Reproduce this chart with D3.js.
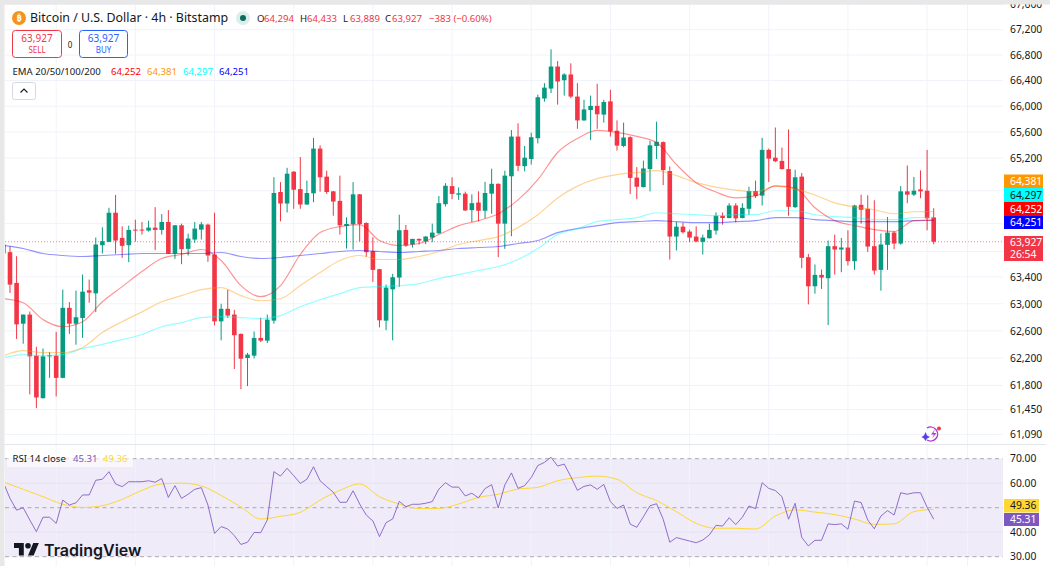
<!DOCTYPE html>
<html>
<head>
<meta charset="utf-8">
<title>BTCUSD 4h</title>
<script src="https://cdn.jsdelivr.net/npm/d3@7/dist/d3.min.js"></script>
<style>
html, body { margin: 0; padding: 0; background: #fff; overflow: hidden; }
text { font-family: "Noto Sans", sans-serif; }
</style>
</head>
<body>
<div id="chart"></div>
<script>
// 4h candles, left to right
var opens = [63885,63770,63310,62705,62840,62235,61615,62225,62235,61910,
  62940,62705,62790,63200,63155,63875,63925,64365,63985,63875,
  64110,64110,64095,64140,64105,64225,63750,64175,63820,63960,
  64110,64185,63735,62740,62925,62840,62555,62200,62235,62495,
  62455,62750,64680,64505,64990,64725,64490,64660,65345,64915,
  64690,64545,64165,64190,64645,64210,63785,63515,62750,63215,
  63390,64105,63885,63970,63930,63990,64055,64495,64770,64640,
  64655,64405,64520,64395,64655,64805,64200,64920,65530,65075,
  65185,65505,66120,66275,66620,66405,66495,66150,65780,65940,
  66005,65870,66075,65620,65385,65520,64900,64755,65030,65385,
  65445,65000,64005,64155,64080,64005,63925,63980,64095,64320,
  64285,64475,64285,64425,64695,64625,65325,65205,65155,65030,
  64450,64915,63695,63260,63430,63380,63860,63810,63840,63635,
  64485,64425,63860,63505,63880,64065,63900,64690,64640,64720,
  64700,64294];
var highs = [63885,63860,63710,62840,62885,62365,62340,62290,62585,63210,
  63025,63195,63435,63360,63990,64145,64440,64635,64160,64170,
  64260,64225,64245,64450,64345,64405,64180,64200,64050,64225,
  64225,64200,64365,63000,63210,62910,62560,62275,62590,62795,
  62840,64905,64830,65050,65000,65215,64855,65510,65395,65005,
  64695,64930,64295,64830,64650,64220,63995,63520,63285,63445,
  64335,64180,63970,63975,64010,64200,64620,64815,64905,64750,
  64685,64645,64690,64835,65035,64810,65005,65630,65735,65385,
  65590,66180,66360,66890,66705,66515,66670,66360,66100,66165,
  66350,66100,66255,65780,65745,65535,65060,65160,65465,65760,
  65455,65070,64225,64215,64110,64160,64035,64200,64370,64370,
  64510,64510,64510,64760,64855,65510,65345,65670,65360,65640,
  65020,64970,63745,63585,63510,63945,64035,63985,64100,64485,
  64640,64630,64555,64050,64300,64085,64770,65085,64910,65010,
  65325,64433];
var lows = [63750,63160,62480,62410,61670,61470,61610,61910,61640,61905,
  62555,62395,62495,63015,62875,63750,63920,63745,63685,63620,
  63930,64035,64080,63800,64035,63745,63670,63590,63720,63910,
  63960,63625,62680,62460,62790,62040,61745,61790,62195,62435,
  62420,62705,64235,64370,64425,64425,64485,64525,64685,64650,
  64320,64035,63825,63810,63930,63700,63325,62650,62610,62460,
  63250,63850,63840,63885,63890,63920,64045,64460,64570,64560,
  64390,64225,64235,64280,64350,63695,63820,64010,65000,64995,
  65100,65425,66070,66205,66025,66165,66125,65650,65775,65475,
  65650,65745,65530,65315,65365,64650,64570,64750,64690,65185,
  64785,63660,63795,64050,63920,63920,63735,63975,64035,64185,
  64280,64220,64280,64335,64590,64475,64830,65135,65025,64320,
  64435,63530,62990,63150,63220,62685,63435,63470,63570,63505,
  64200,63775,63435,63195,63505,63815,63880,64510,64620,64585,
  64100,63889];
var closes = [63750,63285,62695,62840,62225,61625,62225,62240,61910,62940,
  62705,62800,63180,63165,63885,63935,64365,63945,63865,64105,
  64095,64095,64140,64105,64225,63750,64175,63815,63975,64125,
  64190,63720,62740,62925,62825,62535,62190,62250,62495,62455,
  62765,64665,64505,64960,64715,64490,64665,65345,64905,64680,
  64535,64175,64195,64645,64195,63770,63505,62755,63240,63395,
  64100,63870,63970,63945,64005,64065,64510,64775,64650,64660,
  64400,64510,64395,64665,64805,64200,64930,65530,65080,65205,
  65520,66140,66290,66620,66385,66495,66150,65780,65950,66005,
  65875,66065,65610,65390,65515,64895,64760,65040,65395,65450,
  65015,64005,64155,64070,63990,63930,63990,64105,64320,64285,
  64475,64280,64440,64695,64620,65325,65190,65150,65030,64455,
  64905,63685,63260,63430,63390,63860,63810,63840,63635,64475,
  64410,63855,63495,63885,64065,63900,64690,64640,64700,64690,
  64280,63927];

// EMAs and the RSI average, read at every third candle
var sampleStep = 3;
var ema20 = [63075,63015,62765,62660,62735,63030,63255,63480,63675,63735,63810,63645,63270,63105,63270,63735,
  64065,64155,64185,63945,63870,63900,64035,64170,64245,64350,64560,64868,65285,65501,65625,65594,
  65532,65439,65100,64822,64680,64590,64620,64775,64740,64440,64245,64170,64110,64080,64245,64252];
var ema50 = [62235,62310,62280,62280,62355,62575,62735,62880,63030,63120,63210,63240,63120,63045,63075,63270,
  63465,63645,63720,63660,63660,63705,63780,63885,63945,64005,64140,64335,64590,64770,64883,64945,
  64976,65007,64930,64822,64755,64710,64680,64770,64725,64635,64515,64455,64410,64350,64380,64381];
var ema100 = [62206,62250,62235,62250,62340,62400,62470,62545,62660,62720,62795,62810,62795,62780,62825,62955,
  63060,63150,63240,63255,63270,63300,63375,63435,63495,63555,63660,63825,64035,64125,64230,64260,
  64290,64365,64350,64335,64320,64335,64335,64395,64395,64335,64305,64290,64260,64260,64290,64297];
var ema200 = [63870,63825,63750,63720,63705,63720,63735,63750,63750,63750,63750,63765,63705,63675,63690,63720,
  63750,63780,63795,63780,63765,63780,63795,63825,63840,63855,63900,63945,64065,64125,64170,64215,
  64230,64245,64230,64215,64215,64230,64245,64290,64290,64260,64245,64230,64230,64230,64245,64251];

var rsi = [60.2,53.8,49.0,50.0,45.0,40.2,46.1,46.1,43.6,53.1,51.1,52.0,55.2,55.2,61.2,61.6,64.7,59.7,58.6,60.6,
  60.6,60.6,61.0,60.4,61.9,54.2,59.0,53.8,55.5,57.5,58.2,51.1,39.5,42.3,41.3,38.6,35.0,35.9,39.9,39.8,
  45.0,64.7,62.9,66.1,63.1,59.9,61.6,66.7,61.0,58.6,56.3,52.2,52.2,56.9,51.5,47.0,44.6,38.2,43.9,45.4,
  52.6,50.4,51.4,51.4,51.8,52.5,57.6,60.2,58.4,58.4,54.8,55.9,54.0,57.8,59.4,49.9,59.3,64.2,57.9,59.0,
  62.3,67.2,68.5,70.6,67.0,67.8,62.7,57.1,58.7,59.3,57.5,59.5,52.5,49.7,51.1,43.3,42.0,46.3,50.8,51.6,
  45.3,35.9,37.8,37.1,36.4,35.7,36.8,38.9,42.8,42.5,45.9,43.1,46.1,50.7,49.6,60.2,57.9,57.0,54.5,45.3,
  51.8,37.9,34.4,36.7,36.7,43.4,43.1,43.4,41.2,52.7,52.1,45.0,41.4,46.6,48.8,47.0,56.1,55.5,56.1,56.1,
  50.2,45.31];
var rsiMa = [60.5,57.5,54.5,51.4,50.1,50.8,53.4,57.1,59.7,60.0,58.9,55.0,50.3,45.4,46.5,48.1,53.1,57.1,
  59.7,54.5,51.5,49.7,49.7,51.5,54.2,55.5,57.6,58.3,61.0,62.3,62.9,61.6,56.1,52.9,48.4,43.6,
  41.6,41.6,41.3,46.6,49.1,48.2,47.2,45.4,43.2,43.4,48.4,49.36];

var priceTicks = [67600,67200,66800,66400,66000,65600,65200,63400,63000,62600,62200,61800,61450,61090];
var hiddenPriceTicks = [64700,64200,63780]; // labels sit behind the tags
var rsiTicks = [70,60,40,30];
var rsiBands = [70,50,30];
var gridCandles = [8,20,32,44,56,68,80,92,104,116,128,140];
var gridExtraX = [967.5];

var lastPrice = 63927;
var lastRsi = 45.31, lastRsiMa = 49.36;
var emaLabels = ["EMA 20/50/100/200"];
var emaLast = [64252,64381,64297,64251];

var up = "#089981", down = "#f23645";
var emaColors = ["#ff0000","#ff9800","#00ffff","#0000ff"];
var rsiColor = "#7e57c2", rsiMaColor = "#fdd835";
var textColor = "#131722";

var width = 1050, height = 566;
var plotLeft = 5, plotRight = 1003;

var svg = d3.select("#chart").append("svg")
  .attr("width", width).attr("height", height)
  .style("display", "block");

var fmt = d3.format(",");
var x = d3.scaleLinear().domain([0, opens.length - 1]).range([3.4, 933.7]);
var y = d3.scaleLog().domain([61090, 67600]).range([434.5, 4.5]);
var yRsi = d3.scaleLinear().domain([30, 70]).range([556.7, 458.7]);

svg.append("defs").append("clipPath").attr("id", "plot")
  .append("rect").attr("x", plotLeft).attr("y", 5)
  .attr("width", plotRight - plotLeft).attr("height", height - 5);

// rsi background first so the grid shows on it
svg.append("rect")
  .attr("x", plotLeft).attr("width", plotRight - plotLeft)
  .attr("y", yRsi(70)).attr("height", yRsi(30) - yRsi(70))
  .attr("fill", rsiColor).attr("fill-opacity", 0.12);

// grid
var gridX = gridCandles.map(function(d) { return x(d); }).concat(gridExtraX);
svg.append("g").selectAll("line").data(gridX).enter().append("line")
  .attr("x1", function(d) { return d; }).attr("x2", function(d) { return d; })
  .attr("y1", 5).attr("y2", height)
  .attr("stroke", "#f0f3fa").attr("stroke-width", 1);

svg.append("g").selectAll("line").data(priceTicks.concat(hiddenPriceTicks)).enter().append("line")
  .attr("x1", plotLeft).attr("x2", plotRight)
  .attr("y1", function(d) { return y(d); }).attr("y2", function(d) { return y(d); })
  .attr("stroke", "#f0f3fa").attr("stroke-width", 1);

svg.append("g").selectAll("line").data([60, 40]).enter().append("line")
  .attr("x1", plotLeft).attr("x2", plotRight)
  .attr("y1", function(d) { return yRsi(d); }).attr("y2", function(d) { return yRsi(d); })
  .attr("stroke", "#e6e3f2").attr("stroke-width", 1);

// pane separator
svg.append("line").attr("x1", plotLeft).attr("x2", 1046).attr("y1", 444.5).attr("y2", 444.5)
  .attr("stroke", "#e3e5eb").attr("stroke-width", 1);

svg.append("g").selectAll("line").data(rsiBands).enter().append("line")
  .attr("x1", plotLeft).attr("x2", plotRight)
  .attr("y1", function(d) { return yRsi(d); }).attr("y2", function(d) { return yRsi(d); })
  .attr("stroke", "#a9a9b2").attr("stroke-width", 1).attr("stroke-dasharray", "4 3.5");

// candles
var candles = d3.range(opens.length);
var candleG = svg.append("g").attr("clip-path", "url(#plot)");
var candleColor = function(i) { return closes[i] >= opens[i] ? up : down; };

candleG.selectAll("line.wick").data(candles).enter().append("line").attr("class", "wick")
  .attr("x1", function(i) { return x(i); }).attr("x2", function(i) { return x(i); })
  .attr("y1", function(i) { return y(highs[i]); }).attr("y2", function(i) { return y(lows[i]); })
  .attr("stroke", candleColor).attr("stroke-width", 1);

candleG.selectAll("rect.body").data(candles).enter().append("rect").attr("class", "body")
  .attr("x", function(i) { return x(i) - 2.3; }).attr("width", 4.6)
  .attr("y", function(i) { return y(Math.max(opens[i], closes[i])); })
  .attr("height", function(i) { return Math.max(1, Math.abs(y(opens[i]) - y(closes[i]))); })
  .attr("fill", candleColor);

// emas
var sampledLine = function(scale) {
  return d3.line()
    .x(function(d, i) { return x(i * sampleStep); })
    .y(function(d) { return scale(d); })
    .curve(d3.curveMonotoneX);
};
[ema200, ema100, ema50, ema20].forEach(function(s, i) {
  candleG.append("path").datum(s).attr("d", sampledLine(y))
    .attr("fill", "none").attr("stroke", emaColors[3 - i])
    .attr("stroke-opacity", 0.42).attr("stroke-width", 1.2);
});

// last price line
svg.append("line").attr("x1", plotLeft).attr("x2", plotRight + 1)
  .attr("y1", y(lastPrice)).attr("y2", y(lastPrice))
  .attr("stroke", down).attr("stroke-opacity", 0.6).attr("stroke-dasharray", "1 2");

// rsi lines
var rsiG = svg.append("g").attr("clip-path", "url(#plot)");
rsiG.append("path").datum(rsiMa).attr("d", sampledLine(yRsi))
  .attr("fill", "none").attr("stroke", rsiMaColor).attr("stroke-width", 1);
rsiG.append("path").datum(rsi)
  .attr("d", d3.line().x(function(d, i) { return x(i); }).y(function(d) { return yRsi(d); }))
  .attr("fill", "none").attr("stroke", rsiColor).attr("stroke-opacity", 0.85).attr("stroke-width", 1);

// right axes
var priceAxis = d3.axisRight(y).tickValues(priceTicks).tickFormat(fmt).tickSize(0).tickPadding(0);
var gPrice = svg.append("g").attr("transform", "translate(1010,0)").call(priceAxis);
var gRsi = svg.append("g").attr("transform", "translate(1010,0)")
  .call(d3.axisRight(yRsi).tickValues(rsiTicks).tickFormat(d3.format(".2f")).tickSize(0).tickPadding(0));
[gPrice, gRsi].forEach(function(g) {
  g.select(".domain").remove();
  g.selectAll("text").attr("fill", textColor).attr("font-size", 10.3)
    .style("font-family", '"Noto Sans", sans-serif');
});

// tags on the axis
var tag = function(y0, y1, x1, fill, txt, color) {
  svg.append("rect").attr("x", 1004).attr("y", y0).attr("width", x1 - 1004).attr("height", y1 - y0).attr("fill", fill);
  svg.append("text").attr("x", 1010).attr("y", (y0 + y1) / 2 + 3.6)
    .attr("font-size", 10.3).attr("fill", color).text(txt);
};
tag(174.5, 188, 1043, emaColors[1], fmt(emaLast[1]), "#fff");
tag(188, 202, 1043, emaColors[2], fmt(emaLast[2]), textColor);
tag(202, 216, 1043, emaColors[0], fmt(emaLast[0]), "#fff");
tag(216, 229, 1043, emaColors[3], fmt(emaLast[3]), "#fff");

svg.append("rect").attr("x", 1004).attr("y", 236).attr("width", 39).attr("height", 25).attr("fill", down);
var lastTag = svg.append("text").attr("y", 246).attr("font-size", 10.3).attr("fill", "#fff");
lastTag.append("tspan").attr("x", 1010).text(fmt(lastPrice));
lastTag.append("tspan").attr("x", 1010).attr("dy", 11.5).text("26:54");

tag(499, 512.5, 1039, rsiMaColor, d3.format(".2f")(lastRsiMa), textColor);
tag(513, 526, 1039, rsiColor, d3.format(".2f")(lastRsi), "#fff");

// window edge
svg.append("rect").attr("x", 0).attr("y", 0).attr("width", width).attr("height", 4.5).attr("fill", "#e8e8e8");
svg.append("rect").attr("x", 0).attr("y", 0).attr("width", 4.5).attr("height", height).attr("fill", "#e8e8e8");

// header
svg.append("circle").attr("cx", 19).attr("cy", 18).attr("r", 7).attr("fill", "#f7931a");
svg.append("text").attr("x", 19).attr("y", 21.2).attr("text-anchor", "middle")
  .attr("font-size", 9).attr("font-weight", 700).attr("fill", "#fff").text("₿");
svg.append("text").attr("x", 30).attr("y", 22).attr("font-size", 12.4).attr("fill", textColor)
  .text("Bitcoin / U.S. Dollar · 4h · Bitstamp");
svg.append("circle").attr("cx", 243).attr("cy", 18).attr("r", 7).attr("fill", "#d9efea");
svg.append("circle").attr("cx", 243).attr("cy", 18).attr("r", 3).attr("fill", "#0b6b5c");

[["O", "64,294", 257], ["H", "64,433", 300], ["L", "63,889", 343], ["C", "63,927", 385]].forEach(function(d) {
  svg.append("text").attr("x", d[2]).attr("y", 21.5).attr("font-size", 9.6).attr("fill", textColor).text(d[0]);
  svg.append("text").attr("x", d[2] + 7).attr("y", 21.5).attr("font-size", 9.6).attr("fill", down).text(d[1]);
});
svg.append("text").attr("x", 429).attr("y", 21.5).attr("font-size", 9.6).attr("fill", down).text("−383 (−0.60%)");

var button = function(x0, x1, color, label) {
  svg.append("rect").attr("x", x0).attr("y", 30.5).attr("width", x1 - x0).attr("height", 27)
    .attr("rx", 3).attr("fill", "#fff").attr("stroke", color);
  svg.append("text").attr("x", (x0 + x1) / 2).attr("y", 41.5).attr("text-anchor", "middle")
    .attr("font-size", 10).attr("fill", color).text(fmt(lastPrice));
  svg.append("text").attr("x", (x0 + x1) / 2).attr("y", 52.5).attr("text-anchor", "middle")
    .attr("font-size", 8).attr("fill", color).text(label);
};
button(12.5, 61.5, down, "SELL");
button(79.5, 127.5, "#2962ff", "BUY");
svg.append("text").attr("x", 70).attr("y", 47.5).attr("text-anchor", "middle")
  .attr("font-size", 8).attr("fill", textColor).text("0");

svg.append("text").attr("x", 12.5).attr("y", 74.5).attr("font-size", 9.6).attr("fill", textColor).text(emaLabels[0]);
var emaX = [111, 147, 183, 219];
emaLast.forEach(function(v, i) {
  svg.append("text").attr("x", emaX[i]).attr("y", 74.5).attr("font-size", 9.6).attr("fill", emaColors[i]).text(fmt(v));
});

svg.append("rect").attr("x", 12.5).attr("y", 82.5).attr("width", 23).attr("height", 17)
  .attr("rx", 2).attr("fill", "#fff").attr("stroke", "#d6d8de");
svg.append("path").attr("d", "M20.5 92.5 L24 89 L27.5 92.5").attr("fill", "none")
  .attr("stroke", textColor).attr("stroke-width", 1.1);

// rsi legend
svg.append("rect").attr("x", 7).attr("y", 454).attr("width", 126).attr("height", 13)
  .attr("fill", "#fff").attr("fill-opacity", 0.6);
svg.append("text").attr("x", 12.5).attr("y", 462).attr("font-size", 9.6).attr("fill", textColor).text("RSI 14 close");
svg.append("text").attr("x", 73).attr("y", 462).attr("font-size", 9.6).attr("fill", rsiColor).text(lastRsi);
svg.append("text").attr("x", 103).attr("y", 462).attr("font-size", 9.6).attr("fill", rsiMaColor).text(lastRsiMa);

// watermark
svg.append("path").attr("transform", "translate(14,540.2) scale(0.7)")
  .attr("d", "M14 22H7V11H0V4h14v18zM28 22h-8l7.5-18h8L28 22z").attr("fill", textColor);
svg.append("circle").attr("cx", 14 + 20 * 0.7).attr("cy", 540.2 + 8 * 0.7).attr("r", 2.8).attr("fill", textColor);
svg.append("text").attr("x", 44).attr("y", 555.5).attr("font-size", 16).attr("font-weight", 600)
  .style("font-family", "Inter, sans-serif").attr("fill", textColor).text("TradingView");

// alert icon
svg.append("path").attr("d", "M927 428 A7 7 0 1 1 927 440").attr("fill", "none")
  .attr("stroke", "#b03cc8").attr("stroke-width", 1.4);
svg.append("path").attr("d", "M935 429.5 L931 434.5 L934 434.5 L932 438.5 L936.5 433 L933.5 433 Z").attr("fill", "#b03cc8");
svg.append("path").attr("d", "M925.5 432 L927 435.5 L930 437 L927 438.5 L925.5 441 L924 438.5 L921.5 437 L924 435.5 Z").attr("fill", "#5b3df0");
svg.append("circle").attr("cx", 939).attr("cy", 428.5).attr("r", 2).attr("fill", "#f23645");
</script>
</body>
</html>
